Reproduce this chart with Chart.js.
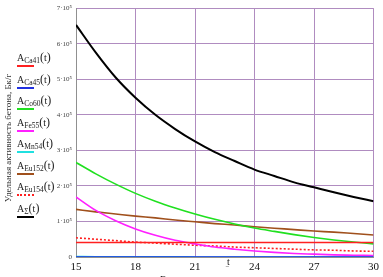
<!DOCTYPE html>
<html>
<head>
<meta charset="utf-8">
<script src="https://cdn.jsdelivr.net/npm/chart.js@4/dist/chart.umd.min.js"></script>
<style>
  body { margin: 0; width: 383px; height: 277px; overflow: hidden; background: #fff; position: relative; font-family: "Liberation Serif", serif; }
  #c { position: absolute; left: 0; top: 0; }
  .lg { position: absolute; left: 17px; font-size: 10px; color: #222; line-height: 12px; white-space: nowrap; }
  .lg sub { font-size: 7.5px; vertical-align: -2px; }
  .lg .p { font-size: 12px; }
  .ln { position: absolute; left: 17px; width: 17px; height: 0; border-top: 2px solid; }
  .ytitle { position: absolute; left: 8px; top: 138px; font-size: 9px; color: #333; white-space: nowrap;
            transform: translate(-50%, -50%) rotate(-90deg); }
  .txt { position: absolute; font-size: 10px; color: #222; white-space: nowrap; }
</style>
</head>
<body>
<canvas id="c" width="383" height="277"></canvas>
<div class="ytitle">Удельная активность бетона, Бк/г</div>
<div id="legend"></div>
<div class="txt" style="left:227px; top:256px;">t</div>
<div class="txt" style="left:226px; top:266px; font-size:8px;">‾</div>
<div class="txt" style="left:160px; top:274px;">Время выдержки, лет</div>
<script>
// time, years
const years = [15, 16, 17, 18, 19, 20, 21, 22, 23, 24, 25, 26, 27, 28, 29, 30];

// specific activity, Bq/g
const aCa41  = [0.41e5, 0.41e5, 0.41e5, 0.41e5, 0.41e5, 0.41e5, 0.41e5, 0.41e5, 0.41e5, 0.41e5, 0.41e5, 0.41e5, 0.41e5, 0.41e5, 0.41e5, 0.41e5];
const aCa45  = [0, 0, 0, 0, 0, 0, 0, 0, 0, 0, 0, 0, 0, 0, 0, 0];
const aCo60  = [2.66e5, 2.34e5, 2.05e5, 1.79e5, 1.57e5, 1.38e5, 1.21e5, 1.06e5, 0.93e5, 0.815e5, 0.72e5, 0.63e5, 0.55e5, 0.48e5, 0.42e5, 0.37e5];
const aFe55  = [1.69e5, 1.31e5, 1.02e5, 0.79e5, 0.61e5, 0.47e5, 0.37e5, 0.28e5, 0.22e5, 0.17e5, 0.13e5, 0.10e5, 0.08e5, 0.06e5, 0.05e5, 0.04e5];
const aMn54  = [1200, 900, 700, 500, 400, 300, 200, 150, 100, 80, 60, 40, 30, 20, 20, 10];
const aEu152 = [1.34e5, 1.27e5, 1.21e5, 1.15e5, 1.10e5, 1.04e5, 0.99e5, 0.94e5, 0.90e5, 0.85e5, 0.81e5, 0.77e5, 0.73e5, 0.70e5, 0.66e5, 0.62e5];
const aEu154 = [0.54e5, 0.50e5, 0.46e5, 0.42e5, 0.39e5, 0.36e5, 0.33e5, 0.31e5, 0.28e5, 0.26e5, 0.24e5, 0.22e5, 0.20e5, 0.19e5, 0.17e5, 0.16e5];
const aSum   = [6.53e5, 5.75e5, 5.05e5, 4.48e5, 4.00e5, 3.60e5, 3.25e5, 2.95e5, 2.70e5, 2.46e5, 2.28e5, 2.10e5, 1.96e5, 1.82e5, 1.69e5, 1.57e5];

const yTicks = [0, 1e5, 2e5, 3e5, 4e5, 5e5, 6e5, 7e5];
const xTicks = [15, 18, 21, 24, 27, 30];

const series = [
  { sub: 'Ca41',  data: aCa41,  color: '#ff2020', dash: [] },
  { sub: 'Ca45',  data: aCa45,  color: '#2030e0', dash: [] },
  { sub: 'Co60',  data: aCo60,  color: '#20e020', dash: [] },
  { sub: 'Fe55',  data: aFe55,  color: '#ff20ff', dash: [] },
  { sub: 'Mn54',  data: aMn54,  color: '#20e0e0', dash: [] },
  { sub: 'Eu152', data: aEu152, color: '#a0501c', dash: [] },
  { sub: 'Eu154', data: aEu154, color: '#ff2020', dash: [2, 2] },
  { sub: 'Σ',     data: aSum,   color: '#000000', dash: [] }
];

// legend on the left
const legend = document.getElementById('legend');
series.forEach((s, i) => {
  const top = 51 + i * 21.5;
  const lab = document.createElement('div');
  lab.className = 'lg';
  lab.style.top = top + 'px';
  lab.innerHTML = 'A<sub>' + s.sub + '</sub><span class="p">(</span>t<span class="p">)</span>';
  legend.appendChild(lab);
  const ln = document.createElement('div');
  ln.className = 'ln';
  ln.style.top = (top + 14) + 'px';
  ln.style.borderTopColor = s.color;
  if (s.dash.length) ln.style.borderTopStyle = 'dotted';
  legend.appendChild(ln);
});

new Chart(document.getElementById('c'), {
  type: 'line',
  data: {
    datasets: series.map(s => ({
      data: s.data.map((v, i) => ({ x: years[i], y: v })),
      borderColor: s.color,
      borderWidth: s.sub === 'Σ' ? 2 : 1.6,
      borderDash: s.dash,
      pointRadius: 0,
      cubicInterpolationMode: 'monotone',
      fill: false
    }))
  },
  options: {
    responsive: false,
    animation: false,
    layout: { padding: { top: 8, right: 7, left: 0, bottom: 0 } },
    plugins: { legend: { display: false }, tooltip: { enabled: false } },
    scales: {
      x: {
        type: 'linear', min: 15, max: 30,
        afterFit: s => { s.height = 20; },
        afterBuildTicks: s => { s.ticks = xTicks.map(v => ({ value: v })); },
        grid: { color: '#b08cc0', lineWidth: 1, drawTicks: false },
        border: { color: '#909090' },
        ticks: { color: '#111', padding: 4, font: { family: 'Liberation Serif', size: 11 } }
      },
      y: {
        min: 0, max: 7e5,
        afterFit: s => { s.width = 76; },
        afterBuildTicks: s => { s.ticks = yTicks.map(v => ({ value: v })); },
        grid: { color: '#b08cc0', lineWidth: 1, drawTicks: false },
        border: { color: '#909090' },
        ticks: {
          color: '#444', padding: 4,
          font: { family: 'Liberation Serif', size: 7 },
          callback: v => v === 0 ? '0' : (v / 1e5) + '·10⁵'
        }
      }
    }
  }
});
</script>
</body>
</html>
